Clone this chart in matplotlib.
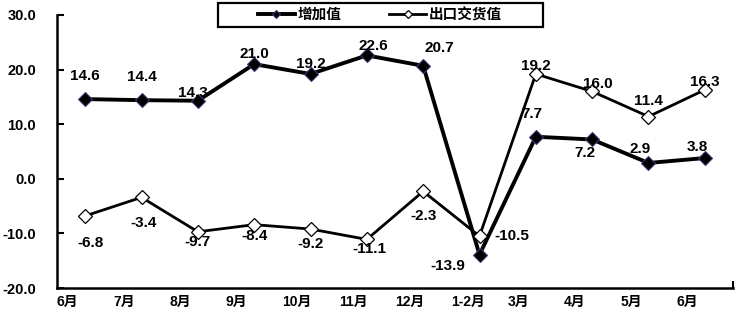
import matplotlib
matplotlib.use("Agg")
import matplotlib.pyplot as plt
from matplotlib.patches import Rectangle

plt.rcParams['font.family'] = ['Liberation Sans', 'Noto Sans CJK SC', 'DejaVu Sans']
plt.rcParams['font.weight'] = 'bold'

categories = ['6月', '7月', '8月', '9月', '10月', '11月', '12月', '1-2月', '3月', '4月', '5月', '6月']
added_value = [14.6, 14.4, 14.3, 21.0, 19.2, 22.6, 20.7, -13.9, 7.7, 7.2, 2.9, 3.8]
export_value = [-6.8, -3.4, -9.7, -8.4, -9.2, -11.1, -2.3, -10.5, 19.2, 16.0, 11.4, 16.3]
series_names = ['增加值', '出口交货值']
y_ticks = [-20, -10, 0, 10, 20, 30]

# label offsets in pixels (dx, dy up-positive)
off1 = [(0, 23), (0, 23), (-5, 8), (0, 10), (0, 10), (6, 9), (16, 18), (-32, -11),
        (-4, 23), (-7, -14), (-8, 14), (-8, 11)]
off2 = [(5, -27), (2, -26), (0, -10), (0, -11), (0, -15), (3, -10), (0, -25), (32, 0),
        (0, 8), (6, 7), (0, 16), (0, 8)]

W, H = 735, 315
fig = plt.figure(figsize=(W / 100, H / 100), dpi=100)
ax = fig.add_axes([57 / W, 27 / H, 676 / W, 273 / H])

x = list(range(len(categories)))
ax.plot(x, added_value, color='black', lw=2.8, marker='D', markersize=7.5,
        markerfacecolor='black', markeredgecolor='#3a3a72', markeredgewidth=0.8,
        label=series_names[0], zorder=3)
ax.plot(x, export_value, color='black', lw=2.0, marker='D', markersize=7.5,
        markerfacecolor='white', markeredgecolor='black', markeredgewidth=0.9,
        label=series_names[1], zorder=3)

for xi, v, (dx, dy) in zip(x, added_value, off1):
    ax.annotate(f'{v:.1f}', (xi, v), xytext=(dx, dy), textcoords='offset pixels',
                ha='center', va='center', fontsize=11, fontweight='bold')
for xi, v, (dx, dy) in zip(x, export_value, off2):
    ax.annotate(f'{v:.1f}', (xi, v), xytext=(dx, dy), textcoords='offset pixels',
                ha='center', va='center', fontsize=11, fontweight='bold')

ax.set_xlim(-0.5, len(categories) - 0.5)
ax.set_ylim(-20, 30)
ax.set_yticks(y_ticks)
ax.set_yticklabels([f'{t:.1f}' for t in y_ticks], fontsize=10.5, fontweight='bold')
ax.tick_params(axis='y', direction='in', length=5, width=1.5, pad=15)

ax.set_xticks([i - 0.5 for i in x])
ax.set_xticklabels(categories, fontsize=10, fontweight='bold', ha='left')
ax.tick_params(axis='x', which='major', length=0, pad=5)
ax.set_xticks([i + 0.5 for i in x], minor=True)
ax.tick_params(axis='x', which='minor', direction='in', length=5, width=1.5)

for s in ['top', 'right']:
    ax.spines[s].set_visible(False)
for s in ['left', 'bottom']:
    ax.spines[s].set_linewidth(1.8)

# legend
leg = fig.legend(loc='center', bbox_to_anchor=(380 / W, 1 - 15 / H), ncol=2,
                 frameon=False, prop={'weight': 'bold', 'size': 10.5},
                 handlelength=2.5, handletextpad=0.2, columnspacing=3.3,
                 markerscale=0.6)
fig.patches.append(Rectangle((218 / W, 1 - 27 / H), 325 / W, 24 / H,
                             transform=fig.transFigure, fill=True, facecolor='white',
                             edgecolor='black', lw=1.6, zorder=0))

fig.savefig('out.png', dpi=100)
